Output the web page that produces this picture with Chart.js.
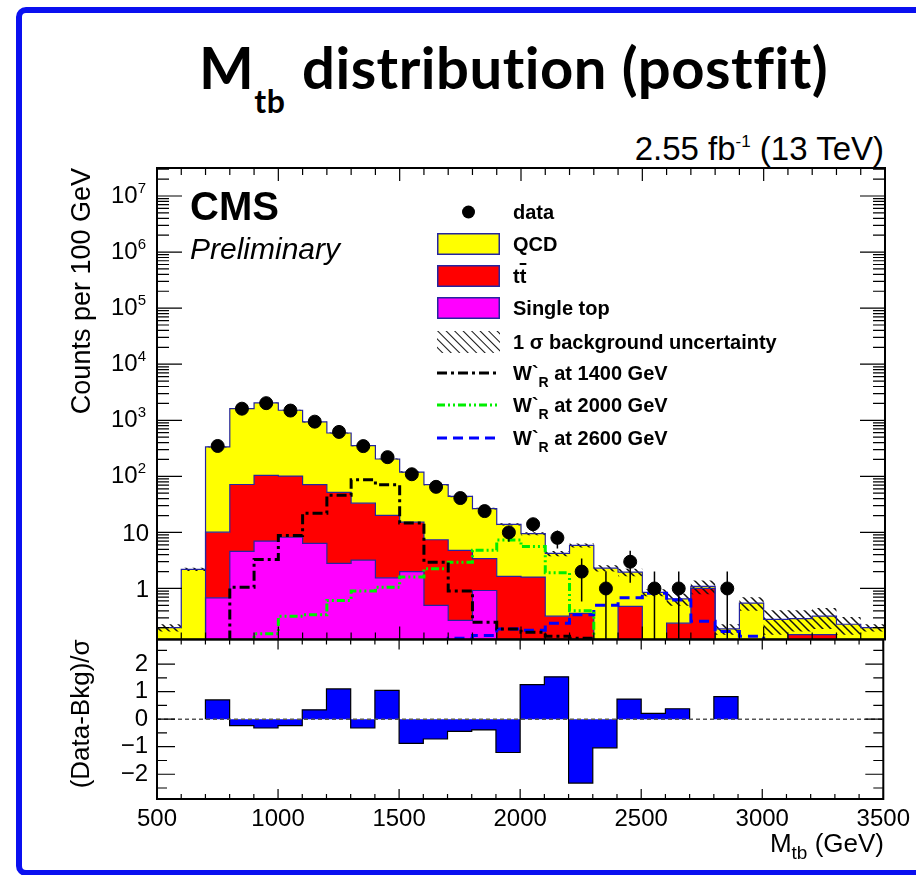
<!DOCTYPE html>
<html lang="en">
<head>
<meta charset="UTF-8">
<title>Mtb distribution (postfit)</title>
<script src="https://cdn.jsdelivr.net/npm/chart.js"></script>
<style>
  html, body { margin: 0; padding: 0; background: #fff; overflow: hidden; }
  body { position: relative; width: 916px; height: 875px; font-family: "Liberation Sans", Arial, sans-serif; color: #000; }
  .border { position: absolute; left: 16px; top: 7px; width: 1000px; height: 857px; border: 6px solid #0a10f0; border-radius: 10px; }
  canvas { position: absolute; left: 0; }
  .txt { position: absolute; white-space: nowrap; line-height: 1; }
  .title { left: 199px; top: 38px; font-family: Lato, sans-serif; font-weight: 700; font-size: 58px; letter-spacing: 0.5px; }
  .title .sub { position: relative; top: 24px; font-size: 32px; margin-right: 2px; }
  .lumi { right: 32px; top: 132px; font-size: 33px; }
  .lumi .sup { position: relative; top: -13px; font-size: 17px; }
  .cms { left: 190px; top: 186px; font-size: 40px; font-weight: 700; }
  .prelim { left: 190px; top: 234px; font-size: 30px; font-style: italic; }
  .xtitle { right: 32px; top: 830px; font-size: 26px; }
  .xtitle .sub { position: relative; top: 7px; font-size: 19px; }
  .leg { position: absolute; left: 437px; height: 22px; display: flex; align-items: center; font-weight: 700; font-size: 20px; white-space: nowrap; }
  .leg svg { flex: none; margin-right: 13px; }
  .leg .r { position: relative; top: 7px; font-size: 14px; }
  .ovl { text-decoration: overline; }
</style>
</head>
<body>
<div class="border"></div>

<div class="txt title">M<span class="sub">tb</span> distribution (postfit)</div>
<div class="txt lumi">2.55 fb<span class="sup">-1</span> (13 TeV)</div>

<canvas id="mainPad" width="916" height="491"></canvas>
<canvas id="ratioPad" width="916" height="246"></canvas>

<div class="txt cms">CMS</div>
<div class="txt prelim">Preliminary</div>
<div class="txt xtitle">M<span class="sub">tb</span> (GeV)</div>

<div class="leg" style="top:201px"><svg width="63" height="22"><circle cx="31.5" cy="11" r="6.5" fill="#000"/></svg><span>data</span></div>
<div class="leg" style="top:233px"><svg width="63" height="22"><rect x="0.75" y="0.75" width="61.5" height="20.5" fill="#ffff00" stroke="#2424a0" stroke-width="1.5"/></svg><span>QCD</span></div>
<div class="leg" style="top:265px"><svg width="63" height="22"><rect x="0.75" y="0.75" width="61.5" height="20.5" fill="#ff0000" stroke="#2424a0" stroke-width="1.5"/></svg><span>t<span class="ovl">t</span></span></div>
<div class="leg" style="top:297px"><svg width="63" height="22"><rect x="0.75" y="0.75" width="61.5" height="20.5" fill="#ff00ff" stroke="#2424a0" stroke-width="1.5"/></svg><span>Single top</span></div>
<div class="leg" style="top:331px"><svg width="63" height="22"><defs><pattern id="hatch" width="6" height="6" patternUnits="userSpaceOnUse" patternTransform="rotate(-45)"><line x1="0" y1="0" x2="0" y2="6" stroke="#111" stroke-width="2"/></pattern></defs><rect width="63" height="22" fill="url(#hatch)"/></svg><span>1 σ background uncertainty</span></div>
<div class="leg" style="top:362px"><svg width="63" height="22"><line x1="0" y1="11" x2="63" y2="11" stroke="#000" stroke-width="3" stroke-dasharray="10 4 3 4"/></svg><span>W`<span class="r">R</span> at 1400 GeV</span></div>
<div class="leg" style="top:394px"><svg width="63" height="22"><line x1="0" y1="11" x2="63" y2="11" stroke="#00ee00" stroke-width="3" stroke-dasharray="8 3 2 3 2 3"/></svg><span>W`<span class="r">R</span> at 2000 GeV</span></div>
<div class="leg" style="top:427px"><svg width="63" height="22"><line x1="0" y1="11" x2="63" y2="11" stroke="#0000ff" stroke-width="3" stroke-dasharray="10 6"/></svg><span>W`<span class="r">R</span> at 2600 GeV</span></div>

<script>
// histogram binning (GeV)
const binEdges = [500, 600, 700, 800, 900, 1000, 1100, 1200, 1300, 1400, 1500, 1600, 1700, 1800, 1900,
                  2000, 2100, 2200, 2300, 2400, 2500, 2600, 2700, 2800, 2900, 3000, 3100, 3200, 3300, 3400, 3500];

// postfit backgrounds, counts per bin
const singleTop = [0, 0, 0.68, 4.6, 7.0, 8.2, 6.4, 2.8, 3.2, 1.55, 2.0, 0.5, 0.27, 0.92, 0,
                   0, 0, 0, 0, 0, 0, 0, 0, 0, 0, 0, 0, 0, 0, 0];
const ttbar = [0, 0, 9.4, 67, 97, 93, 65, 49, 30, 18.5, 13.2, 6.9, 4.5, 2.5, 1.64,
               1.6, 0.32, 0.36, 0, 0.48, 0, 0.24, 1.0, 0, 0, 0, 0.15, 0.15, 0, 0];
const qcd = [0.2, 2.2, 324, 1548, 1936, 1409, 862, 541, 320, 184, 104, 63.6, 39.2, 23.1, 12.3,
             7.9, 3.9, 5.5, 2.3, 1.47, 0.85, 0.41, 0.09, 0.19, 0.55, 0.28, 0.14, 0.17, 0.23, 0.2];
const bkgUncertainty = [0.03, 0.15, 8, 30, 35, 28, 18, 12, 8, 5, 3.5, 2, 1.5, 1, 0.7,
                        0.6, 0.45, 0.5, 0.3, 0.3, 0.12, 0.16, 0.3, 0.04, 0.15, 0.13, 0.12, 0.13, 0.08, 0.03];

// observed events
const dataCounts = [null, null, 348, 1610, 2020, 1490, 945, 620, 346, 220, 109, 65, 41, 24, 10,
                    14, 8, 2, 1, 3, 1, 1, null, 1, null, null, null, null, null, null];

// W'R signal templates
const wr1400 = [0, 0, 0, 1.05, 3.3, 8.8, 22, 46, 87, 71, 14.7, 2.95, 0.9, 0.25, 0.19,
                0.165, 0.14, 0.13, 0, 0, 0, 0, 0, 0, 0, 0, 0, 0, 0, 0];
const wr2000 = [0, 0, 0, 0, 0.155, 0.32, 0.34, 0.61, 0.9, 1.05, 1.6, 2.25, 2.95, 4.8, 7.3,
                5.6, 1.9, 0.4, 0, 0, 0, 0, 0, 0, 0, 0, 0, 0, 0, 0];
const wr2600 = [0, 0, 0, 0, 0, 0, 0, 0, 0, 0, 0, 0, 0.13, 0.145, 0.19,
                0.18, 0.24, 0.34, 0.5, 0.68, 0.82, 0.62, 0.26, 0.17, 0.14, 0, 0, 0, 0, 0];

// (data - bkg) / sigma
const pulls = [null, null, 0.70, -0.23, -0.32, -0.23, 0.34, 1.10, -0.32, 1.05, -0.88, -0.72, -0.44, -0.39, -1.21,
               1.26, 1.54, -2.32, -1.04, 0.73, 0.21, 0.38, null, 0.82, null, null, null, null, null, null];

// axis labels
const logDecades = [1, 10, 100, 1e3, 1e4, 1e5, 1e6, 1e7];
const xLabels = [500, 1000, 1500, 2000, 2500, 3000, 3500];
const pullLabels = [-2, -1, 0, 1, 2];

const FONT = '"Liberation Sans", Arial, sans-serif';
const FLOOR = 1e-3;     // empty bins drop out of the log frame
const NAVY = '#2424a0';

Chart.defaults.font.family = FONT;
Chart.defaults.color = '#000';

const binCenters = binEdges.slice(0, -1).map((e, i) => (e + binEdges[i + 1]) / 2);

// stepped histogram: one point per left edge, last value repeated at the right edge
function stepPoints(vals) {
  const pts = vals.map((v, i) => ({ x: binEdges[i], y: v > 0 ? v : FLOOR }));
  pts.push({ x: binEdges[vals.length], y: pts[pts.length - 1].y });
  return pts;
}

const cumTop = singleTop.map((v, i) => v + ttbar[i]);
const cumQcd = cumTop.map((v, i) => v + qcd[i]);
const bandHi = cumQcd.map((v, i) => v + bkgUncertainty[i]);
const bandLo = cumQcd.map((v, i) => v - bkgUncertainty[i]);

const dataPoints = [];
const errorBars = [];
dataCounts.forEach((n, i) => {
  if (n === null) return;
  const x = binCenters[i];
  const e = Math.sqrt(n);
  dataPoints.push({ x, y: n });
  errorBars.push({ x, y: n - e > 0 ? n - e : FLOOR }, { x, y: n + e }, { x, y: null });
});

function hatchPattern() {
  const c = document.createElement('canvas');
  c.width = 8; c.height = 8;
  const g = c.getContext('2d');
  g.strokeStyle = '#111';
  g.lineWidth = 1.5;
  g.beginPath();
  g.moveTo(-1, -1); g.lineTo(9, 9);
  g.moveTo(-1, 7); g.lineTo(1, 9);
  g.moveTo(7, -1); g.lineTo(9, 1);
  g.stroke();
  return g.createPattern(c, 'repeat');
}

// ROOT-like frame with inward ticks on all four sides
function rootAxes(cfg) {
  return {
    id: 'rootAxes',
    afterDatasetsDraw(chart) {
      const { ctx, chartArea: a, scales: { x, y } } = chart;
      ctx.save();
      ctx.strokeStyle = '#000';
      ctx.lineWidth = 1.2;
      ctx.beginPath();
      for (let v = x.min; v <= x.max; v += 100) {
        const px = x.getPixelForValue(v);
        const len = v % 500 === 0 ? cfg.xMajor : cfg.xMinor;
        ctx.moveTo(px, a.bottom); ctx.lineTo(px, a.bottom - len);
        ctx.moveTo(px, a.top); ctx.lineTo(px, a.top + len);
      }
      cfg.yTicks.forEach(([v, len]) => {
        const py = y.getPixelForValue(v);
        ctx.moveTo(a.left, py); ctx.lineTo(a.left + len, py);
        ctx.moveTo(a.right, py); ctx.lineTo(a.right - len, py);
      });
      ctx.stroke();
      ctx.lineWidth = 2;
      ctx.strokeRect(a.left, a.top, a.right - a.left, a.bottom - a.top);
      if (cfg.labels) cfg.labels(ctx, y);
      ctx.restore();
    }
  };
}

const logTicks = [];
for (let p = -1; p <= 7; p++) {
  for (let m = 1; m <= 9; m++) {
    const v = m * Math.pow(10, p);
    if (v >= 0.123 && v <= 3.16e7) logTicks.push([v, m === 1 ? 25 : 12]);
  }
}

function drawLogLabels(ctx, y) {
  ctx.fillStyle = '#000';
  ctx.textAlign = 'right';
  ctx.textBaseline = 'alphabetic';
  logDecades.forEach(v => {
    const py = y.getPixelForValue(v);
    const exp = Math.round(Math.log10(v));
    if (exp < 2) {
      ctx.font = '24px ' + FONT;
      ctx.fillText(String(v), 149, py + 8.5);
    } else {
      ctx.font = '15px ' + FONT;
      const e = String(exp);
      ctx.fillText(e, 146, py - 3);
      const w = ctx.measureText(e).width;
      ctx.font = '24px ' + FONT;
      ctx.fillText('10', 146 - w, py + 7);
    }
  });
}

// place the canvas so that its plot frame spans [areaTop, areaBottom] on the page
function pinnedChart(id, makeConfig, areaTop, areaBottom) {
  const canvas = document.getElementById(id);
  let chart = new Chart(canvas, makeConfig());
  const offTop = chart.chartArea.top;
  const offBottom = chart.height - chart.chartArea.bottom;
  chart.destroy();
  canvas.width = 916;
  canvas.height = Math.round(areaBottom - areaTop + offTop + offBottom);
  canvas.style.top = Math.round(areaTop - offTop) + 'px';
  return new Chart(canvas, makeConfig());
}

const histLine = { pointRadius: 0, borderWidth: 1.2, stepped: true, borderColor: NAVY };

pinnedChart('mainPad', () => ({
  type: 'line',
  data: {
    datasets: [
      { label: 'data', data: dataPoints, showLine: false, pointRadius: 6.5,
        pointBackgroundColor: '#000', pointBorderColor: '#000', order: 0 },
      { label: 'errors', data: errorBars, pointRadius: 0, borderColor: '#000', borderWidth: 1.5, order: 1 },
      { label: "W'R 1400", data: stepPoints(wr1400), stepped: true, pointRadius: 0, borderColor: '#000',
        borderWidth: 3, borderDash: [10, 4, 3, 4], order: 2 },
      { label: "W'R 2000", data: stepPoints(wr2000), stepped: true, pointRadius: 0, borderColor: '#00ee00',
        borderWidth: 3, borderDash: [8, 3, 2, 3, 2, 3], order: 2 },
      { label: "W'R 2600", data: stepPoints(wr2600), stepped: true, pointRadius: 0, borderColor: '#0000ff',
        borderWidth: 3, borderDash: [10, 6], order: 2 },
      { label: 'band low', data: stepPoints(bandLo), stepped: true, pointRadius: 0, borderWidth: 0,
        borderColor: 'rgba(0,0,0,0)', fill: false, order: 4 },
      { label: 'band high', data: stepPoints(bandHi), stepped: true, pointRadius: 0, borderWidth: 0,
        borderColor: 'rgba(0,0,0,0)', backgroundColor: hatchPattern(), fill: 5, order: 4 },
      { label: 'QCD', data: stepPoints(cumQcd), ...histLine, backgroundColor: '#ffff00', fill: 8, order: 6 },
      { label: 'ttbar', data: stepPoints(cumTop), ...histLine, backgroundColor: '#ff0000', fill: 9, order: 7 },
      { label: 'Single top', data: stepPoints(singleTop), ...histLine, backgroundColor: '#ff00ff', fill: 'start', order: 8 }
    ]
  },
  options: {
    responsive: false,
    maintainAspectRatio: false,
    animation: false,
    events: [],
    layout: { padding: { top: 18, right: 31, bottom: 2, left: 0 } },
    plugins: {
      legend: { display: false },
      tooltip: { enabled: false },
      filler: { drawTime: 'beforeDatasetsDraw' }
    },
    scales: {
      x: { type: 'linear', min: 500, max: 3500, display: false },
      y: {
        type: 'logarithmic', min: 0.123, max: 3.16e7,
        afterFit: s => { s.width = 157; },
        grid: { display: false, drawTicks: false },
        border: { display: false },
        ticks: { display: false },
        title: { display: true, text: 'Counts per 100 GeV', align: 'end',
                 font: { size: 27 }, padding: { top: 66, bottom: 0 } }
      }
    }
  },
  plugins: [rootAxes({ xMajor: 13, xMinor: 7, yTicks: logTicks, labels: drawLogLabels })]
}), 168, 639);

// pull histogram outline: vertical edges only where the level changes
function pullOutline(vals) {
  const pts = [];
  vals.forEach((v, i) => {
    if (v === null) return;
    if (i === 0 || vals[i - 1] === null) pts.push({ x: binEdges[i], y: 0 });
    pts.push({ x: binEdges[i], y: v }, { x: binEdges[i + 1], y: v });
    if (i + 1 >= vals.length || vals[i + 1] === null) {
      pts.push({ x: binEdges[i + 1], y: 0 }, { x: binEdges[i + 1], y: null });
    }
  });
  return pts;
}

const pullTicks = [];
for (let v = -2.5; v <= 2.5; v += 0.5) pullTicks.push([v, Number.isInteger(v) ? 18 : 10]);

pinnedChart('ratioPad', () => ({
  type: 'line',
  data: {
    datasets: [
      { label: 'zero', data: [{ x: 500, y: 0 }, { x: 3500, y: 0 }], pointRadius: 0,
        borderColor: '#555', borderWidth: 1.5, borderDash: [4, 3], order: 0 },
      { label: 'pull', data: pullOutline(pulls), pointRadius: 0, borderColor: '#000',
        borderWidth: 1.2, backgroundColor: '#0000ff', fill: 'origin', order: 1 }
    ]
  },
  options: {
    responsive: false,
    maintainAspectRatio: false,
    animation: false,
    events: [],
    layout: { padding: { top: 10, right: 31, bottom: 0, left: 0 } },
    plugins: { legend: { display: false }, tooltip: { enabled: false } },
    scales: {
      x: {
        type: 'linear', min: 500, max: 3500, offset: false,
        afterBuildTicks: s => { s.ticks = xLabels.map(v => ({ value: v })); },
        afterFit: s => { s.height = 76; },
        grid: { display: false, drawTicks: false },
        border: { display: false },
        ticks: { font: { size: 24 }, padding: 6, maxRotation: 0, autoSkip: false,
                 callback: v => String(v) }
      },
      y: {
        type: 'linear', min: -2.9, max: 2.9,
        afterBuildTicks: s => { s.ticks = pullLabels.map(v => ({ value: v })); },
        afterFit: s => { s.width = 157; },
        grid: { display: false, drawTicks: false },
        border: { display: false },
        ticks: { font: { size: 24 }, padding: 9,
                 callback: v => v < 0 ? '\u2212' + Math.abs(v) : String(v) },
        title: { display: true, text: '(Data-Bkg)/σ', align: 'end',
                 font: { size: 26 }, padding: { top: 66, bottom: 0 } }
      }
    }
  },
  plugins: [rootAxes({ xMajor: 10, xMinor: 5, yTicks: pullTicks })]
}), 639, 799);
</script>
</body>
</html>
